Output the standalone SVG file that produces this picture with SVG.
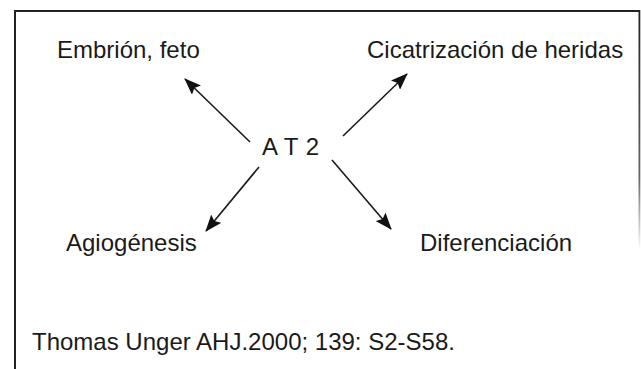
<svg xmlns="http://www.w3.org/2000/svg" width="641" height="369" viewBox="0 0 641 369">
  <style>
    .lbl { font-family: "Liberation Sans", Arial, Helvetica, sans-serif; font-size: 24px; fill: #1a1a1a; }
    .edge { stroke: #1a1a1a; stroke-width: 1.6; fill: none; marker-end: url(#arr); }
    .frame { stroke: #222; stroke-width: 2; fill: none; }
  </style>
  <defs>
    <marker id="arr" markerUnits="userSpaceOnUse" markerWidth="17" markerHeight="13" viewBox="0 0 17 13" refX="16" refY="6.5" orient="auto">
      <path d="M0,0 L17,6.5 L0,13 L3,6.5 z" fill="#111"/>
    </marker>
    <linearGradient id="fade" x1="0" y1="0" x2="0" y2="1">
      <stop offset="0" stop-color="#222"/>
      <stop offset="0.7" stop-color="#666"/>
      <stop offset="1" stop-color="#fff"/>
    </linearGradient>
  </defs>
  <rect width="641" height="369" fill="#fff"/>
  <g id="frame">
    <line class="frame" x1="14" y1="11" x2="640" y2="11"/>
    <line class="frame" x1="15" y1="10" x2="15" y2="369"/>
    <rect x="638.5" y="10" width="1.8" height="240" fill="url(#fade)"/>
  </g>
  <g id="connectors">
    <line class="edge" x1="250" y1="142" x2="185" y2="79"/>
    <line class="edge" x1="343" y1="136" x2="407" y2="74"/>
    <line class="edge" x1="259" y1="167" x2="206" y2="231"/>
    <line class="edge" x1="332" y1="160" x2="391" y2="229"/>
  </g>
  <g id="at2"><text class="lbl" x="262" y="155" textLength="57" lengthAdjust="spacing">A T 2</text></g>
  <g id="embrion"><text class="lbl" x="57" y="58">Embrión, feto</text></g>
  <g id="cicatrizacion"><text class="lbl" x="367" y="58">Cicatrización de heridas</text></g>
  <g id="agiogenesis"><text class="lbl" x="66" y="251">Agiogénesis</text></g>
  <g id="diferenciacion"><text class="lbl" x="420" y="251">Diferenciación</text></g>
  <g id="cita"><text class="lbl" x="32" y="350">Thomas Unger AHJ.2000; 139: S2-S58.</text></g>
</svg>
